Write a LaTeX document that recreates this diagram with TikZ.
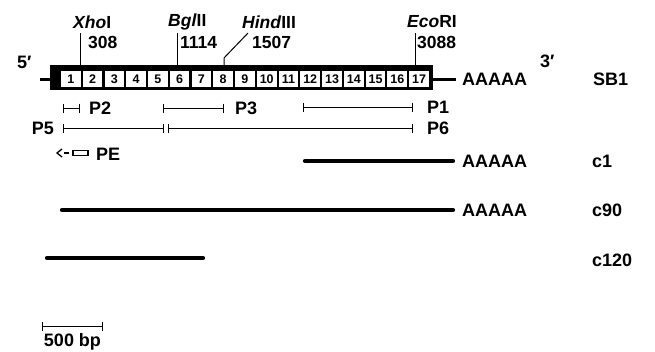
\documentclass[tikz,border=0pt]{standalone}
\usepackage{fontspec}
\setmainfont{Liberation Sans}
\usetikzlibrary{arrows.meta}
\begin{document}
\begin{tikzpicture}[x=1pt,y=-1pt,
  lbl/.style={inner sep=0pt,font=\fontsize{18}{20}\selectfont\bfseries},
  site/.style={inner sep=0pt,font=\fontsize{17.5}{20}\selectfont\bfseries},
  cellbox/.style={fill=white,minimum width=19.6pt,minimum height=15.5pt,inner sep=0pt,font=\fontsize{12.5}{13}\selectfont\bfseries},
  thin/.style={line width=1pt},
  stub/.style={line width=3pt},
  probe/.style={line width=0.9pt,{Bar[width=9pt,line width=0.9pt]}-{Bar[width=9pt,line width=0.9pt]}},
  clone/.style={line width=4.2pt,line cap=round}]
\useasboundingbox (0,0) rectangle (655,351);
% main box
\node[fill=black,minimum width=383pt,minimum height=25pt,inner sep=0pt] (box) at (241.5,77.5) {};
\foreach \i in {1,...,17}{
  \node[cellbox] (cell\i) at ({60+21.76*(\i-0.5)},79) {\i};
}
% stubs and labels
\node[lbl,anchor=west] (p5prime) at (17,62) {5′};
\node[lbl,anchor=west] (p3prime) at (540,61) {3′};
\coordinate (s5) at (40,79);
\draw[stub] (s5) -- (s5 -| box.west);
\node[lbl,anchor=west] (aSB) at (462,79) {AAAAA};
\draw[stub] (aSB.west -| box.east) -- ([xshift=-6pt]aSB.west);
\node[lbl,anchor=west] (SB1) at (593,79) {SB1};
% restriction sites
\node[site,anchor=west] (xho) at (73,22) {\textit{Xho}I};
\node[site,anchor=west] (n308) at (88,42) {308};
\coordinate (xhoT) at (80,33);
\draw[thin] (xhoT) -- (xhoT |- box.north);
\node[site,anchor=west] (bgl) at (168,22) {\textit{Bgl}II};
\node[site,anchor=west] (n1114) at (180,42) {1114};
\coordinate (bglT) at (177,33);
\draw[thin] (bglT) -- (bglT |- box.north);
\node[site,anchor=west] (hind) at (242,22) {\textit{Hind}III};
\node[site,anchor=west] (n1507) at (252,42) {1507};
\coordinate (hindT) at (248,33);
\coordinate (hindK) at (224,58);
\draw[thin] (hindT) -- (hindK) -- (hindK |- box.north);
\node[site,anchor=west] (eco) at (407,22) {\textit{Eco}RI};
\node[site,anchor=west] (n3088) at (417,42) {3088};
\coordinate (ecoT) at (415,33);
\draw[thin] (ecoT) -- (ecoT |- box.north);
% probes
\coordinate (p2a) at (63,108); \coordinate (p2b) at (80,108);
\draw[probe] (p2a) -- (p2b);
\node[lbl,anchor=west] (P2) at (89,108) {P2};
\coordinate (p3a) at (163,108); \coordinate (p3b) at (224,108);
\draw[probe] (p3a) -- (p3b);
\node[lbl,anchor=west] (P3) at (235,108) {P3};
\coordinate (p1a) at (303,107); \coordinate (p1b) at (413,107);
\draw[probe] (p1a) -- (p1b);
\node[lbl,anchor=west] (P1) at (427,107) {P1};
\coordinate (p5a) at (63,128); \coordinate (p5b) at (164,128);
\draw[probe] (p5a) -- (p5b);
\node[lbl,anchor=east] (P5) at (54,128) {P5};
\coordinate (p6a) at (168,128); \coordinate (p6b) at (413,128);
\draw[probe] (p6a) -- (p6b);
\node[lbl,anchor=west] (P6) at (427,128) {P6};
% PE
\node[draw,line width=1.3pt,minimum width=15pt,minimum height=5.5pt,inner sep=0pt] (pe) at (80.5,153) {};
\node[lbl,anchor=west] (PE) at (96,154) {PE};
\coordinate (peArrow) at (57,153);
\draw[line width=1.3pt] ([xshift=5pt,yshift=-4pt]peArrow) -- (peArrow) -- ([xshift=5pt,yshift=4pt]peArrow);
\draw[line width=1.3pt] ([xshift=-3pt]pe.west) -- ([xshift=-8pt]pe.west);
% clones
\node[lbl,anchor=west] (a1) at (462,161) {AAAAA};
\coordinate (c1a) at (305,161);
\draw[clone] (c1a) -- ([xshift=-9pt]a1.west);
\node[lbl,anchor=west] (c1) at (592,161) {c1};
\node[lbl,anchor=west] (a90) at (462,210) {AAAAA};
\coordinate (c90a) at (62,210);
\draw[clone] (c90a) -- ([xshift=-9pt]a90.west);
\node[lbl,anchor=west] (c90) at (592,210) {c90};
\coordinate (c120a) at (47,258); \coordinate (c120b) at (203,258);
\draw[clone] (c120a) -- (c120b);
\node[lbl,anchor=west] (c120) at (592,260) {c120};
% scale bar
\coordinate (sba) at (42,326); \coordinate (sbb) at (103,326);
\draw[probe] (sba) -- (sbb);
\node[lbl,anchor=north] (sbl) at (72.5,333) {500 bp};
\end{tikzpicture}
\end{document}
